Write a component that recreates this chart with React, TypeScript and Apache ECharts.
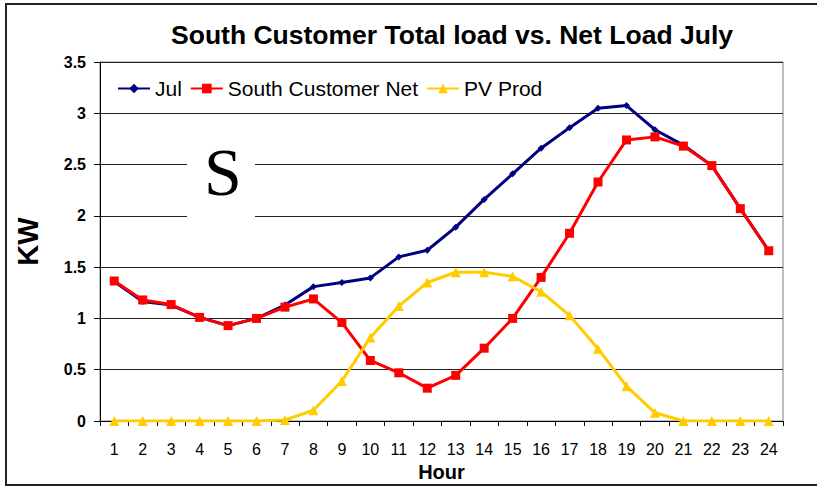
import React, { useEffect, useRef } from "react";
import * as echarts from "echarts";

const hours = ["1","2","3","4","5","6","7","8","9","10","11","12","13","14","15","16","17","18","19","20","21","22","23","24"];
const julLoad = [1.36, 1.165, 1.13, 1.01, 0.93, 1.0, 1.13, 1.31, 1.35, 1.395, 1.6, 1.665, 1.89, 2.16, 2.41, 2.66, 2.86, 3.05, 3.075, 2.84, 2.69, 2.49, 2.07, 1.66];
const netLoad = [1.365, 1.18, 1.135, 1.01, 0.93, 1.0, 1.11, 1.19, 0.96, 0.59, 0.47, 0.32, 0.445, 0.71, 1.0, 1.4, 1.83, 2.33, 2.74, 2.77, 2.68, 2.49, 2.07, 1.66];
const pvProd = [0, 0, 0, 0, 0, 0, 0.01, 0.105, 0.39, 0.815, 1.12, 1.35, 1.45, 1.45, 1.41, 1.26, 1.03, 0.705, 0.34, 0.08, 0, 0, 0, 0];
const yTicks = { min: 0, max: 3.5, interval: 0.5 };

export default function App() {
  const ref = useRef<HTMLDivElement>(null);
  useEffect(() => {
    if (!ref.current) return;
    const chart = echarts.init(ref.current, undefined, { renderer: "svg" });
    const font = "Liberation Sans, Arial, sans-serif";
    chart.setOption({
      animation: false,
      backgroundColor: "#ffffff",
      textStyle: { fontFamily: font },
      title: {
        text: "South Customer Total load vs. Net Load July",
        left: 447,
        textAlign: "center",
        top: 16,
        textStyle: { fontSize: 26.5, fontWeight: "bold", color: "#000", fontFamily: font },
      },
      legend: {
        left: 112,
        top: 73,
        itemGap: 8,
        itemWidth: 32,
        itemHeight: 12,
        textStyle: { fontSize: 21, color: "#000", fontFamily: font },
        data: ["Jul", "South Customer Net", "PV Prod"],
      },
      grid: {
        left: 100,
        right: 34,
        top: 62,
        bottom: 69,
        show: true,
        borderColor: "#808080",
        borderWidth: 1,
        containLabel: false,
      },
      xAxis: {
        type: "category",
        data: hours,
        boundaryGap: true,
        name: "Hour",
        nameLocation: "middle",
        nameGap: 36,
        nameTextStyle: { fontSize: 20, fontWeight: "bold", color: "#000", fontFamily: font },
        axisLine: { lineStyle: { color: "#000", width: 1 } },
        axisTick: { show: true, interval: 0, length: 5, lineStyle: { color: "#000" } },
        axisLabel: { interval: 0, margin: 20, fontSize: 16, color: "#000", fontFamily: font },
      },
      yAxis: {
        type: "value",
        min: yTicks.min,
        max: yTicks.max,
        interval: yTicks.interval,
        name: "KW",
        nameLocation: "middle",
        nameGap: 58,
        nameRotate: 90,
        nameTextStyle: { fontSize: 29, fontWeight: "bold", color: "#000", fontFamily: font },
        axisLine: { show: true, lineStyle: { color: "#000", width: 1 } },
        axisTick: { show: true, length: 6, lineStyle: { color: "#000" } },
        axisLabel: { margin: 14, fontSize: 16, fontWeight: "bold", color: "#000", fontFamily: font },
        splitLine: { show: true, lineStyle: { color: "#222", width: 1 } },
      },
      series: [
        {
          name: "Jul",
          type: "line",
          data: julLoad,
          color: "#000080",
          symbol: "diamond",
          symbolSize: 7,
          lineStyle: { width: 3, color: "#000080" },
          itemStyle: { color: "#000080" },
          z: 3,
        },
        {
          name: "South Customer Net",
          type: "line",
          data: netLoad,
          color: "#ff0000",
          symbol: "rect",
          symbolSize: 9,
          lineStyle: { width: 3, color: "#ff0000" },
          itemStyle: { color: "#ff0000" },
          z: 4,
        },
        {
          name: "PV Prod",
          type: "line",
          data: pvProd,
          color: "#ffcc00",
          symbol: "triangle",
          symbolSize: 10,
          lineStyle: { width: 3, color: "#ffcc00" },
          itemStyle: { color: "#ffcc00" },
          z: 5,
        },
      ],
      graphic: [
        {
          type: "rect",
          z: 100,
          shape: { x: 187, y: 140, width: 68, height: 95 },
          style: { fill: "#ffffff" },
        },
        {
          type: "text",
          z: 101,
          x: 223,
          y: 172,
          style: {
            text: "S",
            fontSize: 68,
            fontFamily: "Liberation Serif, Times New Roman, serif",
            fill: "#000",
            align: "center",
            verticalAlign: "middle",
          },
        },
        {
          type: "polyline",
          z: 100,
          shape: { points: [[830, 4], [6, 4], [6, 485], [830, 485]] },
          style: { stroke: "#222", lineWidth: 2, fill: "none" },
        },
      ],
    });
    return () => chart.dispose();
  }, []);
  return (
    <div
      ref={ref}
      style={{ position: "absolute", left: 0, top: 0, width: 817, height: 490 }}
    />
  );
}
